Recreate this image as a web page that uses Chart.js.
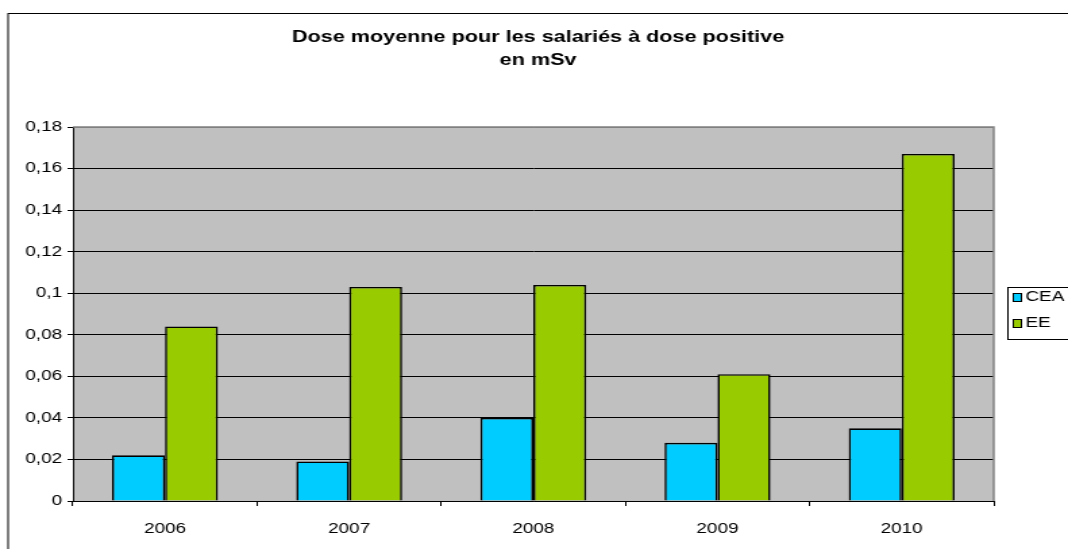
<!DOCTYPE html>
<html><head><meta charset="utf-8">
<script src="https://cdn.jsdelivr.net/npm/chart.js@4.4.1/dist/chart.umd.min.js"></script>
<style>
html,body{margin:0;padding:0;background:#fff;overflow:hidden;width:1068px;height:549px;}
#wrap{position:absolute;left:0;top:0;width:791px;height:549px;transform:scaleX(1.35019);transform-origin:0 0;}
</style></head><body>
<div id="wrap"><canvas id="c"></canvas></div>
<script>
const categories = ['2006', '2007', '2008', '2009', '2010'];
const seriesNames = ['CEA', 'EE'];
const ceaValues = [0.022, 0.019, 0.040, 0.028, 0.035];
const eeValues = [0.084, 0.103, 0.104, 0.061, 0.167];
const seriesColors = ['#00CCFF', '#99CC00'];
const yTickLabels = ['0', '0,02', '0,04', '0,06', '0,08', '0,1', '0,12', '0,14', '0,16', '0,18'];
const titleLines = ['Dose moyenne pour les salariés à dose positive', 'en mSv'];

const FONT = "'Liberation Sans', Arial, sans-serif";

const bgPlugin = {
  id: 'bgPlugin',
  beforeDraw(chart) {
    const ctx = chart.ctx, a = chart.chartArea;
    ctx.save();
    ctx.fillStyle = '#ffffff';
    ctx.fillRect(0, 0, chart.width, chart.height);
    ctx.fillStyle = '#C0C0C0';
    ctx.fillRect(a.left, a.top, a.right - a.left, a.bottom - a.top);
    ctx.strokeStyle = '#000000';
    ctx.lineWidth = 1;
    ctx.strokeRect(6, 13.5, chart.width + 50, chart.height + 50);
    ctx.restore();
  },
  beforeDatasetsDraw(chart) {
    const ctx = chart.ctx, a = chart.chartArea;
    ctx.save();
    ctx.strokeStyle = '#808080';
    ctx.lineWidth = 1.5;
    ctx.beginPath();
    ctx.moveTo(a.left, a.top);
    ctx.lineTo(a.right, a.top);
    ctx.lineTo(a.right, a.bottom);
    ctx.stroke();
    ctx.restore();
  }
};

const legendPlugin = {
  id: 'boxLegend',
  afterDraw(chart) {
    const ctx = chart.ctx;
    const x0 = 746.5, y0 = 287.5, h = 52;
    ctx.save();
    ctx.fillStyle = '#ffffff';
    ctx.fillRect(x0, y0, 80, h);
    ctx.strokeStyle = '#000000';
    ctx.lineWidth = 1;
    ctx.strokeRect(x0, y0, 80, h);
    ctx.font = '14px ' + FONT;
    ctx.textBaseline = 'middle';
    ctx.textAlign = 'left';
    chart.data.datasets.forEach((ds, i) => {
      const cy = y0 + 10 + i * 26;
      ctx.fillStyle = ds.backgroundColor;
      ctx.fillRect(750.5, cy - 4, 6, 8);
      ctx.strokeStyle = '#000';
      ctx.lineWidth = 1;
      ctx.strokeRect(750.5, cy - 4, 6, 8);
      ctx.fillStyle = '#000';
      ctx.fillText(ds.label, 759.5, cy);
    });
    ctx.restore();
  }
};

new Chart(document.getElementById('c'), {
  type: 'bar',
  data: {
    labels: categories,
    datasets: [
      { label: seriesNames[0], data: ceaValues, backgroundColor: seriesColors[0], borderColor: '#000', borderWidth: 1.6 },
      { label: seriesNames[1], data: eeValues, backgroundColor: seriesColors[1], borderColor: '#000', borderWidth: 1.6 }
    ]
  },
  options: {
    responsive: true,
    maintainAspectRatio: false,
    animation: false,
    devicePixelRatio: 1,
    layout: { padding: { left: 6, right: 0, top: 0, bottom: 0 } },
    datasets: { bar: { categoryPercentage: 0.575, barPercentage: 1.0 } },
    plugins: {
      legend: { display: false },
      tooltip: { enabled: false },
      title: {
        display: true,
        text: titleLines,
        color: '#000',
        font: { family: FONT, size: 16, weight: 'bold', lineHeight: 1.4375 },
        padding: { top: 26.5, bottom: 54.5 }
      }
    },
    scales: {
      x: {
        grid: { display: true, offset: true, drawOnChartArea: false, drawTicks: true, tickLength: 5, color: '#000', tickColor: '#000' },
        border: { display: true, color: '#000', width: 1 },
        ticks: { color: '#000', font: { family: FONT, size: 14 }, padding: 15, maxRotation: 0 },
        afterFit(s) { s.height = 48; }
      },
      y: {
        min: 0, max: 0.18,
        ticks: {
          stepSize: 0.02, color: '#000', font: { family: FONT, size: 14 }, padding: 4,
          callback: (v) => yTickLabels[Math.round(v / 0.02)]
        },
        grid: {
          color: (c) => (c.tick && Math.round(c.tick.value / 0.02) === 9) ? '#808080' : '#000',
          tickColor: '#000', lineWidth: 1, tickLength: 4, drawTicks: true
        },
        border: { display: true, color: '#000', width: 1 },
        afterFit(s) { s.width = 48; }
      },
      y2: {
        position: 'right', display: true,
        grid: { display: false, drawTicks: false },
        ticks: { display: false },
        border: { display: false },
        afterFit(s) { s.width = 55; }
      }
    }
  },
  plugins: [bgPlugin, legendPlugin]
});
</script>
</body></html>
